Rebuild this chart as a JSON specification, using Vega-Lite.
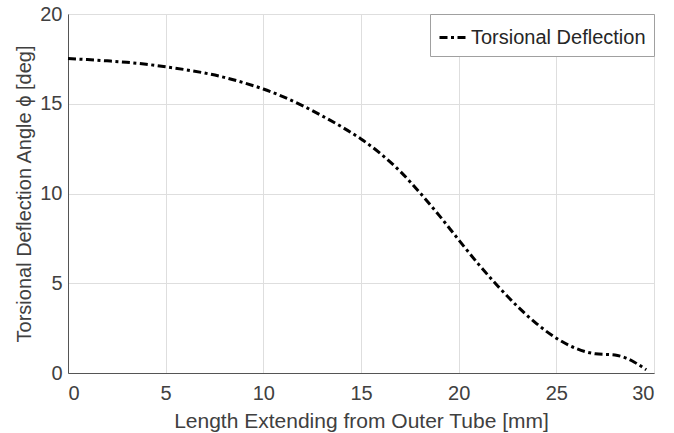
{
  "$schema": "https://vega.github.io/schema/vega-lite/v6.json",
  "width": 586,
  "height": 359,
  "autosize": {"type": "none"},
  "padding": {"left": 68, "top": 14, "right": 20, "bottom": 60},
  "background": "white",
  "data": {"values": [
    {"x": 0, "y": 17.52, "s": "Torsional Deflection"},
    {"x": 1, "y": 17.46, "s": "Torsional Deflection"},
    {"x": 2, "y": 17.39, "s": "Torsional Deflection"},
    {"x": 3, "y": 17.31, "s": "Torsional Deflection"},
    {"x": 4, "y": 17.2, "s": "Torsional Deflection"},
    {"x": 5, "y": 17.06, "s": "Torsional Deflection"},
    {"x": 6, "y": 16.9, "s": "Torsional Deflection"},
    {"x": 7, "y": 16.71, "s": "Torsional Deflection"},
    {"x": 8, "y": 16.47, "s": "Torsional Deflection"},
    {"x": 9, "y": 16.17, "s": "Torsional Deflection"},
    {"x": 10, "y": 15.82, "s": "Torsional Deflection"},
    {"x": 11, "y": 15.4, "s": "Torsional Deflection"},
    {"x": 12, "y": 14.9, "s": "Torsional Deflection"},
    {"x": 13, "y": 14.33, "s": "Torsional Deflection"},
    {"x": 14, "y": 13.72, "s": "Torsional Deflection"},
    {"x": 15, "y": 13.04, "s": "Torsional Deflection"},
    {"x": 16, "y": 12.22, "s": "Torsional Deflection"},
    {"x": 17, "y": 11.24, "s": "Torsional Deflection"},
    {"x": 18, "y": 10.06, "s": "Torsional Deflection"},
    {"x": 19, "y": 8.78, "s": "Torsional Deflection"},
    {"x": 20, "y": 7.42, "s": "Torsional Deflection"},
    {"x": 21, "y": 6.08, "s": "Torsional Deflection"},
    {"x": 22, "y": 4.85, "s": "Torsional Deflection"},
    {"x": 23, "y": 3.72, "s": "Torsional Deflection"},
    {"x": 24, "y": 2.74, "s": "Torsional Deflection"},
    {"x": 25, "y": 1.94, "s": "Torsional Deflection"},
    {"x": 26, "y": 1.37, "s": "Torsional Deflection"},
    {"x": 27, "y": 1.07, "s": "Torsional Deflection"},
    {"x": 28, "y": 1.0, "s": "Torsional Deflection"},
    {"x": 28.5, "y": 0.86, "s": "Torsional Deflection"},
    {"x": 29, "y": 0.6, "s": "Torsional Deflection"},
    {"x": 29.6, "y": 0.18, "s": "Torsional Deflection"}
  ]},
  "mark": {"type": "line", "interpolate": "monotone", "strokeWidth": 3, "strokeDash": [8, 3.5, 3, 3.5]},
  "encoding": {
    "x": {"field": "x", "type": "quantitative", "scale": {"domain": [0, 30], "nice": false},
      "axis": {"values": [0, 5, 10, 15, 20, 25, 30], "title": "Length Extending from Outer Tube [mm]", "titlePadding": 7, "titleFontSize": 21, "labelPadding": 10}},
    "y": {"field": "y", "type": "quantitative", "scale": {"domain": [0, 20], "nice": false},
      "axis": {"values": [0, 5, 10, 15, 20], "title": "Torsional Deflection Angle ϕ [deg]", "titlePadding": 5, "labelPadding": 6}},
    "color": {"field": "s", "type": "nominal", "scale": {"range": ["#000000"]},
      "legend": {"title": null, "orient": "top-right", "offset": 0, "symbolType": "stroke", "symbolSize": 784,
        "symbolStrokeWidth": 3, "symbolDash": [8, 3.5, 3, 3.5], "labelFontSize": 20, "labelColor": "#262626",
        "labelFont": "Liberation Sans", "labelLimit": 400, "strokeColor": "#a0a0a0", "fillColor": "white", "padding": 8, "labelOffset": 2}}
  },
  "config": {
    "view": {"stroke": "#b0b0b0", "strokeWidth": 1},
    "axis": {
      "labelFont": "Liberation Sans", "titleFont": "Liberation Sans",
      "labelFontSize": 20, "titleFontSize": 20, "titleFontWeight": "normal",
      "labelColor": "#404040", "titleColor": "#404040",
      "gridColor": "#dedede", "gridWidth": 1,
      "domainColor": "#555555", "tickColor": "#555555", "tickSize": 0
    }
  }
}
